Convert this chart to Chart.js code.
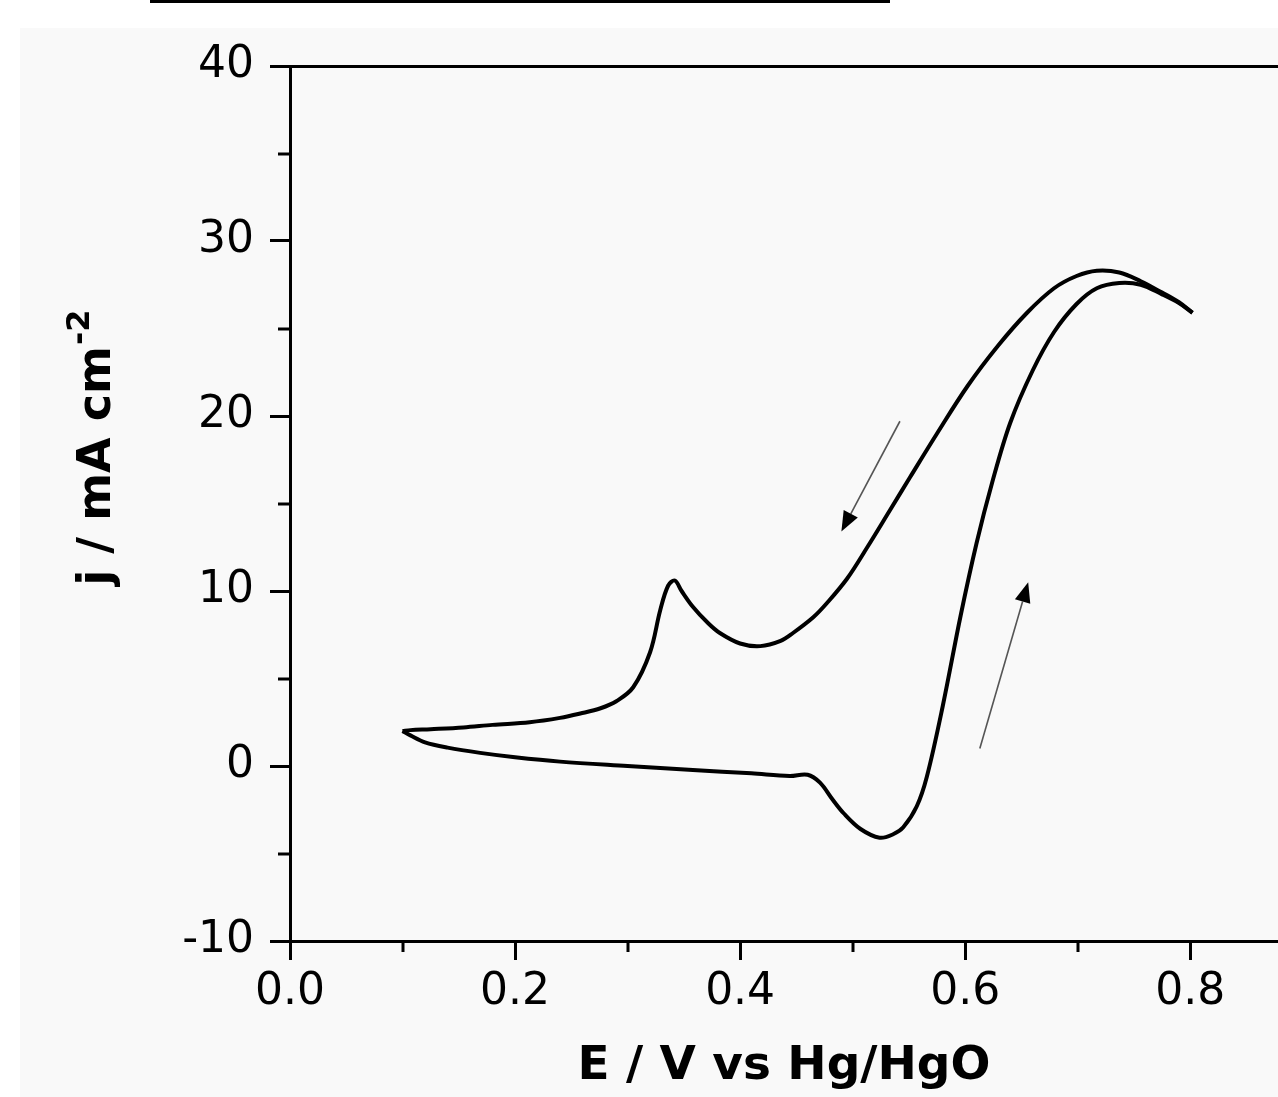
<!DOCTYPE html>
<html>
<head>
<meta charset="utf-8">
<title>Cyclic voltammogram</title>
<script src="https://cdn.jsdelivr.net/npm/chart.js@4.4.0/dist/chart.umd.min.js"></script>
<style>
  html, body { margin: 0; padding: 0; background: #fff; }
  #cvChart { display: block; }
</style>
</head>
<body>
<canvas id="cvChart" width="1278" height="1097"></canvas>
<script>
// === Data ===
// anodic (forward) scan, 0.1 V -> 0.8 V
const anodicE = [0.100, 0.107, 0.120, 0.140, 0.169, 0.200, 0.240, 0.300, 0.358, 0.410, 0.444, 0.460, 0.471, 0.482, 0.492, 0.507, 0.524, 0.536, 0.545, 0.557, 0.566, 0.580, 0.596, 0.610, 0.624, 0.640, 0.660, 0.679, 0.699, 0.717, 0.737, 0.756, 0.775, 0.790, 0.802];
const anodicJ = [2.0, 1.75, 1.35, 1.05, 0.75, 0.5, 0.25, 0.0, -0.23, -0.42, -0.57, -0.5, -0.95, -1.9, -2.7, -3.6, -4.1, -3.9, -3.5, -2.3, -0.6, 3.4, 8.6, 12.7, 16.2, 19.6, 22.6, 24.8, 26.4, 27.3, 27.6, 27.5, 26.95, 26.45, 25.9];

// cathodic (reverse) scan, 0.8 V -> 0.1 V
const cathodicE = [0.802, 0.790, 0.775, 0.756, 0.737, 0.717, 0.699, 0.679, 0.655, 0.629, 0.602, 0.575, 0.551, 0.533, 0.513, 0.495, 0.477, 0.465, 0.447, 0.436, 0.418, 0.400, 0.382, 0.371, 0.358, 0.348, 0.342, 0.336, 0.329, 0.320, 0.305, 0.290, 0.276, 0.258, 0.240, 0.213, 0.180, 0.154, 0.125, 0.107, 0.100];
const cathodicJ = [25.9, 26.5, 27.05, 27.7, 28.2, 28.3, 28.0, 27.3, 25.9, 24.0, 21.7, 19.0, 16.5, 14.6, 12.5, 10.7, 9.3, 8.5, 7.6, 7.15, 6.85, 7.0, 7.6, 8.2, 9.1, 10.0, 10.6, 10.3, 8.9, 6.5, 4.5, 3.7, 3.3, 3.0, 2.75, 2.5, 2.35, 2.2, 2.1, 2.05, 2.0];

// scan direction arrows [E, j] tail -> head
const arrowTails = [[0.542, 19.7], [0.613, 1.0]];
const arrowHeads = [[0.490, 13.4], [0.656, 10.5]];

// minor tick positions
const minorTicksE = [0.1, 0.3, 0.5, 0.7];
const minorTicksJ = [35, 25, 15, 5, -5];

function toPoints(xs, ys) {
  return xs.map((x, i) => ({ x: x, y: ys[i] }));
}

// light paper background + cropped rule at the very top
const backgroundPlugin = {
  id: "paper",
  beforeDraw(chart) {
    const c = chart.ctx;
    c.save();
    c.fillStyle = "#ffffff";
    c.fillRect(0, 0, chart.width, chart.height);
    c.fillStyle = "#f9f9f9";
    c.fillRect(20, 28, chart.width - 20, chart.height - 28);
    c.fillStyle = "#000";
    c.fillRect(150, 0, 740, 3);
    c.restore();
  }
};

const minorTickPlugin = {
  id: "minorTicks",
  afterDraw(chart) {
    const c = chart.ctx;
    const xs = chart.scales.x;
    const ys = chart.scales.y;
    c.save();
    c.strokeStyle = "#000";
    c.lineWidth = 3;
    c.beginPath();
    minorTicksE.forEach(v => {
      const px = Math.round(xs.getPixelForValue(v));
      c.moveTo(px, xs.top);
      c.lineTo(px, xs.top + 11);
    });
    minorTicksJ.forEach(v => {
      const py = Math.round(ys.getPixelForValue(v));
      c.moveTo(ys.right, py);
      c.lineTo(ys.right - 12, py);
    });
    c.stroke();
    c.restore();
  }
};

// y title drawn by hand so the "-2" can be a real superscript
const yTitlePlugin = {
  id: "yTitle",
  afterDraw(chart) {
    const c = chart.ctx;
    const main = "j / mA cm";
    const sup = "-2";
    c.save();
    c.translate(93, 448);
    c.rotate(-Math.PI / 2);
    c.fillStyle = "#000";
    c.textBaseline = "alphabetic";
    c.font = "bold 46px 'DejaVu Sans'";
    const wMain = c.measureText(main).width;
    c.font = "bold 32px 'DejaVu Sans'";
    const wSup = c.measureText(sup).width;
    const x0 = -(wMain + wSup) / 2;
    c.font = "bold 46px 'DejaVu Sans'";
    c.fillText(main, x0, 17);
    c.font = "bold 32px 'DejaVu Sans'";
    c.fillText(sup, x0 + wMain + 1, -4);
    c.restore();
  }
};

const arrowPlugin = {
  id: "scanArrows",
  afterDatasetsDraw(chart) {
    const c = chart.ctx;
    const xs = chart.scales.x;
    const ys = chart.scales.y;
    c.save();
    arrowTails.forEach((tail, i) => {
      const x1 = xs.getPixelForValue(tail[0]);
      const y1 = ys.getPixelForValue(tail[1]);
      const x2 = xs.getPixelForValue(arrowHeads[i][0]);
      const y2 = ys.getPixelForValue(arrowHeads[i][1]);
      const ang = Math.atan2(y2 - y1, x2 - x1);
      const headLen = 20, headHalf = 8;
      // shaft
      c.strokeStyle = "#555";
      c.lineWidth = 1.6;
      c.beginPath();
      c.moveTo(x1, y1);
      c.lineTo(x2 - headLen * Math.cos(ang), y2 - headLen * Math.sin(ang));
      c.stroke();
      // head
      c.fillStyle = "#000";
      c.beginPath();
      c.moveTo(x2, y2);
      c.lineTo(x2 - headLen * Math.cos(ang) + headHalf * Math.sin(ang), y2 - headLen * Math.sin(ang) - headHalf * Math.cos(ang));
      c.lineTo(x2 - headLen * Math.cos(ang) - headHalf * Math.sin(ang), y2 - headLen * Math.sin(ang) + headHalf * Math.cos(ang));
      c.closePath();
      c.fill();
    });
    c.restore();
  }
};

const tickFont = { family: "DejaVu Sans", size: 44 };
const titleFont = { family: "DejaVu Sans", size: 47, weight: "bold" };

const ctx = document.getElementById("cvChart").getContext("2d");
const cvChart = new Chart(ctx, {
  type: "scatter",
  data: {
    datasets: [
      {
        label: "Anodic scan",
        data: toPoints(anodicE, anodicJ),
        showLine: true,
        borderColor: "#000",
        borderWidth: 4,
        pointRadius: 0,
        tension: 0.35
      },
      {
        label: "Cathodic scan",
        data: toPoints(cathodicE, cathodicJ),
        showLine: true,
        borderColor: "#000",
        borderWidth: 4,
        pointRadius: 0,
        tension: 0.35
      }
    ]
  },
  options: {
    responsive: false,
    animation: false,
    layout: { padding: { top: 66, left: 0, right: 0, bottom: 0 } },
    plugins: {
      legend: { display: false },
      tooltip: { enabled: false }
    },
    scales: {
      x: {
        type: "linear",
        position: "bottom",
        min: 0,
        max: 0.878,
        ticks: {
          stepSize: 0.2,
          includeBounds: false,
          autoSkip: false,
          maxRotation: 0,
          padding: 6,
          color: "#000",
          font: tickFont,
          callback: v => v.toFixed(1)
        },
        grid: { drawOnChartArea: false, drawTicks: true, tickLength: 19, tickWidth: 3, tickColor: "#000" },
        border: { color: "#000", width: 3 },
        title: {
          display: true,
          text: "E / V vs Hg/HgO",
          color: "#000",
          font: titleFont,
          padding: { top: 0, bottom: 2 }
        },
        afterFit: s => { s.height = 156; }
      },
      x2: {
        type: "linear",
        position: "top",
        min: 0,
        max: 0.878,
        ticks: { display: false },
        grid: { display: false },
        border: { color: "#000", width: 3 },
        afterFit: s => { s.height = 0; }
      },
      y: {
        type: "linear",
        min: -10,
        max: 40,
        ticks: {
          stepSize: 10,
          padding: 16,
          color: "#000",
          font: tickFont,
          callback: v => String(v)
        },
        grid: { drawOnChartArea: false, drawTicks: true, tickLength: 20, tickWidth: 3, tickColor: "#000" },
        border: { color: "#000", width: 3 },
        title: { display: false },
        afterFit: s => { s.width = 290; }
      }
    }
  },
  plugins: [backgroundPlugin, minorTickPlugin, yTitlePlugin, arrowPlugin]
});
</script>
</body>
</html>
